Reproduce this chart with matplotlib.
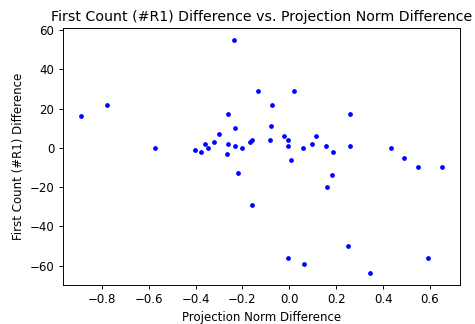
import matplotlib
matplotlib.use('Agg')
import matplotlib.pyplot as plt

# projection norm difference (x) vs first count (#R1) difference (y)
proj_norm_diff = [
    -0.890, -0.778, -0.575, -0.403, -0.378, -0.358, -0.346, -0.322, -0.300,
    -0.260, -0.260, -0.264, -0.236, -0.230, -0.234, -0.219, -0.204, -0.169,
    -0.159, -0.159, -0.133, -0.082, -0.077, -0.073, -0.023, -0.006, -0.006,
    -0.006, 0.009, 0.019, 0.060, 0.064, 0.096, 0.112, 0.158, 0.162, 0.182,
    0.186, 0.249, 0.258, 0.258, 0.346, 0.432, 0.487, 0.549, 0.590, 0.650,
]
count_diff = [
    16, 22, 0, -1, -2, 2, 0, 3, 7,
    17, 2, -3, 55, 10, 1, -13, 0, 3,
    4, -29, 29, 4, 11, 22, 6, 4, 1,
    -56, -6, 29, 0, -59, 2, 6, 1, -20, -14,
    -2, -50, 17, 1, -64, 0, -5, -10, -56, -10,
]

dpi = 85
fig = plt.figure(figsize=(475 / dpi, 324 / dpi), dpi=dpi)
ax = fig.add_axes([0.132, 0.120, 0.836, 0.793])
ax.plot(proj_norm_diff, count_diff, 'b.')
ax.set_title('First Count (#R1) Difference vs. Projection Norm Difference')
ax.set_xlabel('Projection Norm Difference')
ax.set_ylabel('First Count (#R1) Difference')
fig.savefig('out.png', dpi=dpi)
